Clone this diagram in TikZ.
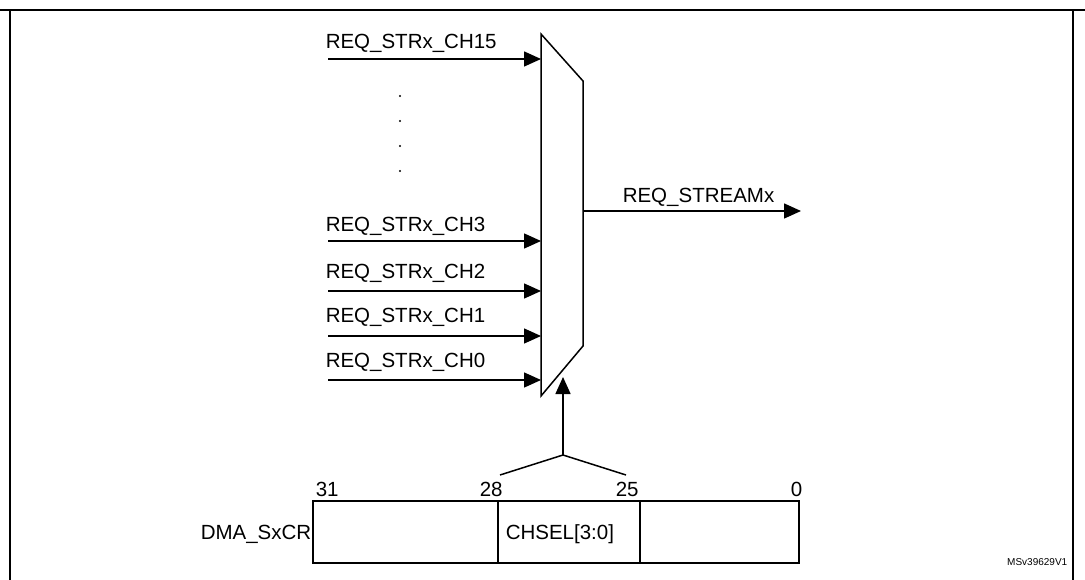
\documentclass[tikz,border=0pt]{standalone}
\usepackage{fontspec}
\setmainfont{Liberation Sans}
\usetikzlibrary{arrows.meta}
\begin{document}
\begin{tikzpicture}[x=1pt,y=-1pt,line width=1.5pt,
  lbl/.style={font=\fontsize{20.5}{23}\selectfont,inner sep=0pt,anchor=base west},
  arr/.style={-{Triangle[length=17pt,width=15pt]}},
  dot/.style={circle,fill,inner sep=0.8pt}]
\useasboundingbox (0,0) rectangle (1085,580);
\draw[line width=1.2pt] (0,10) -- (1085,10);
\draw[line width=1.2pt] (10,10) -- (10,580);
\draw[line width=1.2pt] (1073,10) -- (1073,580);
% mux
\draw (541,34) -- (583,81) -- (583,346) -- (541,396) -- cycle;
\coordinate (m15) at (541,59); \coordinate (m3) at (541,241);
\coordinate (m2) at (541,291); \coordinate (m1) at (541,336);
\coordinate (m0) at (541,380);
\coordinate (s15) at (328,59); \coordinate (s3) at (328,241);
\coordinate (s2) at (328,291); \coordinate (s1) at (328,336);
\coordinate (s0) at (328,380);
\draw[arr] (s15) -- (m15); \draw[arr] (s3) -- (m3); \draw[arr] (s2) -- (m2);
\draw[arr] (s1) -- (m1); \draw[arr] (s0) -- (m0);
\node[lbl] (l15) at (325,49) {REQ\_STRx\_CH15};
\node[lbl] (l3) at (325,232) {REQ\_STRx\_CH3};
\node[lbl] (l2) at (325,279) {REQ\_STRx\_CH2};
\node[lbl] (l1) at (325,323) {REQ\_STRx\_CH1};
\node[lbl] (l0) at (325,367) {REQ\_STRx\_CH0};
\foreach \y in {96,121,146,171} \node[dot] at (400,\y) {};
% output
\coordinate (mo) at (583,211); \coordinate (oe) at (801,211);
\draw[arr] (mo) -- (oe);
\node[lbl] (lo) at (622,203) {REQ\_STREAMx};
% select
\coordinate (j) at (563,455); \coordinate (st) at (563,377);
\draw[arr] (j) -- (st);
\coordinate (ja) at (500,475); \coordinate (jb) at (626,475);
\draw (ja) -- (j) -- (jb);
% register
\draw (313,501) rectangle (799,563);
\draw (498,501) -- (498,563); \draw (640,501) -- (640,563);
\node[lbl] at (315,496) {31};
\node[lbl] at (479,496) {28};
\node[lbl] at (615,496) {25};
\node[lbl] at (790,496) {0};
\node[lbl] (ch) at (505,539) {CHSEL[3:0]};
\node[lbl] (dma) at (200,539) {DMA\_SxCR};
\node[font=\fontsize{10}{12}\selectfont,inner sep=0pt,anchor=base east] at (1068,565) {MSv39629V1};
\end{tikzpicture}
\end{document}
